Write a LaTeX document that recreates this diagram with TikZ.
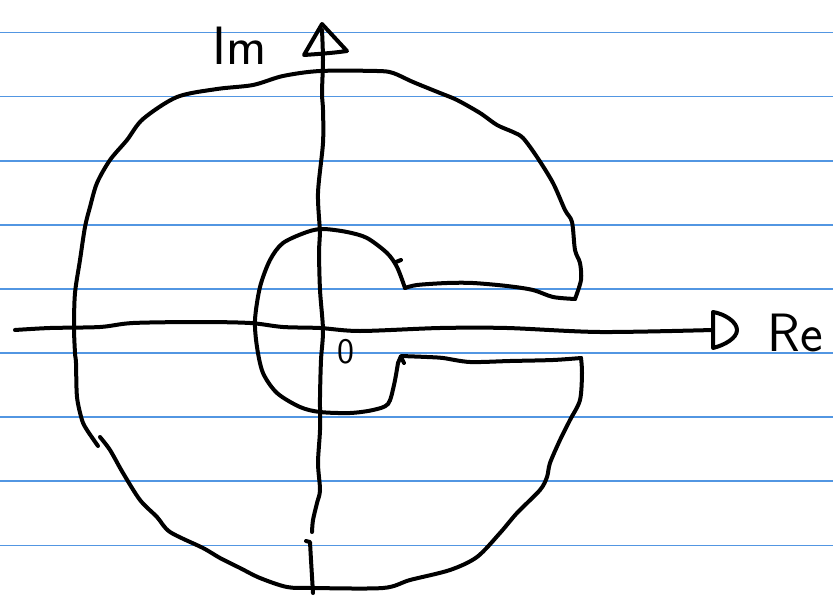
\documentclass[tikz,border=0pt]{standalone}
\usetikzlibrary{positioning}
\definecolor{ruleblue}{RGB}{82,150,226}
\begin{document}
\begin{tikzpicture}[x=1pt, y=-1pt,
    ruling/.style={ruleblue, line width=1.6pt},
    pen/.style={black, line width=4pt, line cap=round, line join=round},
    hand/.style={font=\fontsize{54}{54}\selectfont\sffamily, inner sep=0pt},
    smallhand/.style={font=\fontsize{36}{36}\selectfont\sffamily, inner sep=0pt}
]
\useasboundingbox (0,0) rectangle (833,602);

% Ruled paper
\foreach \k in {0,...,8}
  \draw[ruling] (0,32.5+64.1*\k) -- (833,32.5+64.1*\k);

% Axis ends
\coordinate (reStart) at (15,330);
\coordinate (reEnd) at (713,330);
\coordinate (imStart) at (312,532);
\coordinate (imEnd) at (322,30);

% Real axis
\draw[pen] plot[smooth, tension=0.5] coordinates {(reStart) (50,328) (100,327) (133,323) (200,322) (250,323) (283,327) (320,328) (360,331) (440,328) (507,328) (600,332) (reEnd)};
\draw[pen] (713,312) -- (713,348) .. controls (725,345) and (737,338) .. (737,330) .. controls (737,322) and (725,314) .. (713,312);

% Imaginary axis
\draw[pen] plot[smooth, tension=0.5] coordinates {(313,593) (311,560) (310,542)} -- (306,541);
\draw[pen] plot[smooth, tension=0.5] coordinates {(imStart) (313,520) (317,503) (320,490) (318,463) (320,430) (320,397) (321,360) (323,330) (320,290) (319,250) (320,233) (318,193) (323,143) (323,110) (322,93) (323,60) (imEnd)};
\draw[pen] (322,24) -- (304,55) .. controls (318,54) and (333,53) .. (347,51) -- cycle;

% Inner arc
\draw[pen] plot[smooth, tension=0.5] coordinates {(398,363) (394,385) (388,404) (373,410) (350,413) (320,412) (300,407) (277,393) (263,373) (257,347) (255,320) (260,287) (270,260) (283,243) (307,232) (323,229) (347,232) (367,238) (387,253) (397,267) (405,288)};
\draw[pen] (396,262) -- (401,260);

% Upper edge of the slot
\draw[pen] plot[smooth, tension=0.5] coordinates {(405,288) (417,285) (447,283) (473,283) (507,286) (533,290) (553,297) (575,299)};

% Outer arc, upper part
\draw[pen] plot[smooth, tension=0.5] coordinates {(575,299) (581,280) (580,263) (575,250) (572,222) (565,210) (553,183) (537,157) (523,138) (513,132) (497,125) (480,113) (457,100) (440,93) (413,82) (393,73) (377,71) (320,71) (283,76) (253,85) (217,89) (177,97) (143,119) (127,140) (110,160) (97,183) (90,207) (85,227) (80,260) (75,293) (74,327) (75,353) (76,363) (77,397) (82,420) (87,430) (98,446)};

% Outer arc, lower part
\draw[pen] plot[smooth, tension=0.5] coordinates {(100,437) (110,450) (123,473) (140,500) (157,517) (170,532) (203,548) (220,558) (240,568) (260,578) (287,587) (313,588) (383,588) (410,580) (450,570) (477,557) (500,533) (517,513) (540,490) (547,477) (550,463) (560,440) (570,420) (580,400) (582,373) (581,358)};

% Lower edge of the slot
\draw[pen] plot[smooth, tension=0.5] coordinates {(581,358) (553,360) (510,361) (470,362) (443,358) (427,357) (401,356)} -- (398,363);
\draw[pen] (401,357) -- (404,363);

% Labels
\node[hand] (imLabel) at (240,46) {Im};
\node[hand] (reLabel) at (795,333) {Re};
\node[smallhand] (origin) at (346,352) {0};

\end{tikzpicture}
\end{document}
